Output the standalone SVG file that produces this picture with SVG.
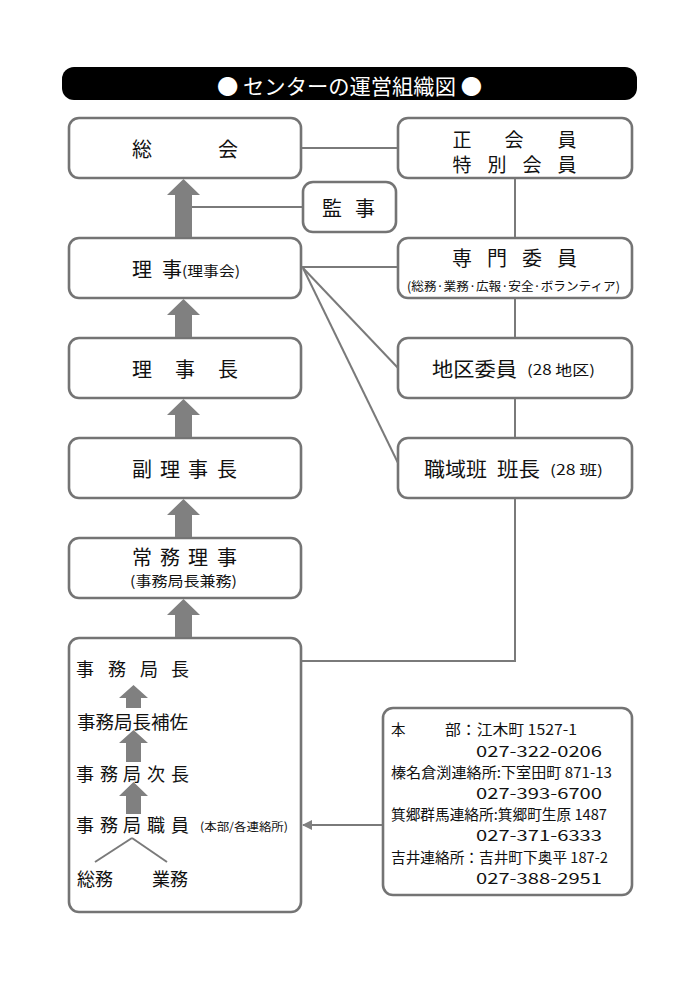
<svg xmlns="http://www.w3.org/2000/svg" width="700" height="989" viewBox="0 0 700 989">
<style>
.box{fill:#fff;stroke:#747474;stroke-width:2.6}
.ln{fill:none;stroke:#7a7a7a;stroke-width:2}
.ar{fill:#808080}
text{font-family:"Noto Sans CJK JP","Noto Sans",sans-serif;fill:#111;dominant-baseline:central}
.b{font-size:20px;text-anchor:middle}
.b2{font-size:19px;text-anchor:middle}
.m{font-size:18px}
.s{font-size:14px}
.c{font-size:14.5px}
</style>
<defs>
<marker id="ah" markerWidth="10" markerHeight="10" refX="9" refY="5" orient="auto" markerUnits="userSpaceOnUse">
<path d="M0,0 L10,5 L0,10 Z" fill="#808080"/>
</marker>
</defs>
<rect x="0" y="0" width="700" height="989" fill="#fff"/>
<g id="title">
<rect x="62" y="67" width="575" height="33" rx="12" fill="#000"/>
<text x="217" y="85" style="font-size:21px;fill:#fff" textLength="265" lengthAdjust="spacingAndGlyphs">● センターの運営組織図 ●</text>
</g>
<g id="soukai">
<rect class="box" x="69" y="118" width="232" height="60" rx="10"/>
<text class="b" x="142 228" y="148">総会</text>
</g>
<g id="kanji">
<rect class="box" x="303" y="182" width="93" height="50" rx="10"/>
<text class="b" x="332 365" y="207">監事</text>
</g>
<g id="riji">
<rect class="box" x="69" y="238" width="232" height="60" rx="10"/>
<text class="b" x="142 172" y="268">理事</text>
<text class="s" x="182" y="270" textLength="58" lengthAdjust="spacingAndGlyphs">(理事会)</text>
</g>
<g id="rijichou">
<rect class="box" x="69" y="338" width="232" height="60" rx="10"/>
<text class="b" x="142 185 228" y="368">理事長</text>
</g>
<g id="fukurijichou">
<rect class="box" x="69" y="438" width="232" height="60" rx="10"/>
<text class="b" x="142 170 198 227" y="468">副理事長</text>
</g>
<g id="joumuriji">
<rect class="box" x="69" y="538" width="232" height="60" rx="10"/>
<text class="b" x="142 170 198 227" y="556">常務理事</text>
<text class="s" x="130" y="580" textLength="107" lengthAdjust="spacingAndGlyphs">(事務局長兼務)</text>
</g>
<g id="jimukyoku">
<rect class="box" x="69" y="638" width="232" height="274" rx="10"/>
<text class="m" x="85 117 149 180" y="668" text-anchor="middle">事務局長</text>
<text class="m" x="77" y="721" textLength="111" lengthAdjust="spacingAndGlyphs">事務局長補佐</text>
<text class="m" x="85 109 132 156 180" y="773" text-anchor="middle">事務局次長</text>
<text class="m" x="85 109 132 156 180" y="824" text-anchor="middle">事務局職員</text>
<text x="200" y="826" style="font-size:11.5px" textLength="88" lengthAdjust="spacingAndGlyphs">(本部/各連絡所)</text>
<text class="m" x="77" y="878">総務</text>
<text class="m" x="152" y="878">業務</text>
</g>
<g id="seikaiin">
<rect class="box" x="398" y="118" width="234" height="60" rx="10"/>
<text class="b2" x="462 514 567" y="138.5">正会員</text>
<text class="b2" x="462 497 532 567" y="163">特別会員</text>
</g>
<g id="senmoniin">
<rect class="box" x="398" y="238" width="234" height="60" rx="10"/>
<text class="b" x="462 497 532 567" y="257">専門委員</text>
<text x="407" y="285" style="font-size:12.5px" textLength="213" lengthAdjust="spacingAndGlyphs">(総務·業務·広報·安全·ボランティア)</text>
</g>
<g id="chikuiin">
<rect class="box" x="398" y="338" width="234" height="60" rx="10"/>
<text x="432" y="368" style="font-size:20px" textLength="85" lengthAdjust="spacingAndGlyphs">地区委員</text>
<text class="s" x="527" y="369" textLength="68" lengthAdjust="spacingAndGlyphs">(28 地区)</text>
</g>
<g id="shokuikihan">
<rect class="box" x="398" y="438" width="234" height="60" rx="10"/>
<text x="424" y="468" style="font-size:20px" textLength="63" lengthAdjust="spacingAndGlyphs">職域班</text>
<text x="497" y="468" style="font-size:20px" textLength="43" lengthAdjust="spacingAndGlyphs">班長</text>
<text class="s" x="550" y="469" textLength="53" lengthAdjust="spacingAndGlyphs">(28 班)</text>
</g>
<g id="contact">
<rect class="box" x="383" y="708" width="249" height="187" rx="10"/>
<text class="c" x="391" y="728">本</text>
<text class="c" x="445" y="728" textLength="132" lengthAdjust="spacingAndGlyphs">部：江木町 1527-1</text>
<text class="c" x="476" y="750" textLength="126" lengthAdjust="spacingAndGlyphs">027-322-0206</text>
<text class="c" x="391" y="771" textLength="221" lengthAdjust="spacingAndGlyphs">榛名倉渕連絡所:下室田町 871-13</text>
<text class="c" x="476" y="792" textLength="126" lengthAdjust="spacingAndGlyphs">027-393-6700</text>
<text class="c" x="391" y="813" textLength="216" lengthAdjust="spacingAndGlyphs">箕郷群馬連絡所:箕郷町生原 1487</text>
<text class="c" x="476" y="834" textLength="126" lengthAdjust="spacingAndGlyphs">027-371-6333</text>
<text class="c" x="391" y="856" textLength="217" lengthAdjust="spacingAndGlyphs">吉井連絡所：吉井町下奥平 187-2</text>
<text class="c" x="476" y="877" textLength="126" lengthAdjust="spacingAndGlyphs">027-388-2951</text>
</g>
<g id="connectors">
<line class="ln" x1="302" y1="148" x2="397" y2="148"/>
<line class="ln" x1="302" y1="267" x2="397" y2="267"/>
<line class="ln" x1="192" y1="207" x2="302" y2="207"/>
<line class="ln" x1="303" y1="268" x2="398" y2="368"/>
<line class="ln" x1="303" y1="268" x2="398" y2="463"/>
<line class="ln" x1="515" y1="179" x2="515" y2="237"/>
<line class="ln" x1="515" y1="299" x2="515" y2="337"/>
<line class="ln" x1="515" y1="399" x2="515" y2="437"/>
<polyline class="ln" points="515,499 515,661 302,661"/>
<line class="ln" x1="382" y1="825" x2="303" y2="825" marker-end="url(#ah)"/>
<line class="ln" x1="132" y1="838" x2="95" y2="862"/>
<line class="ln" x1="132" y1="838" x2="167" y2="862"/>
<polygon class="ar" points="183.5,179 200,195 192,195 192,237 175,237 175,195 167,195"/>
<polygon class="ar" points="183.5,299 200,315 192,315 192,337 175,337 175,315 167,315"/>
<polygon class="ar" points="183.5,399 200,415 192,415 192,437 175,437 175,415 167,415"/>
<polygon class="ar" points="183.5,499 200,515 192,515 192,537 175,537 175,515 167,515"/>
<polygon class="ar" points="183.5,599 200,615 192,615 192,637 175,637 175,615 167,615"/>
<polygon class="ar" points="133.5,685 148,698 141,698 141,708 126,708 126,698 119,698"/>
<polygon class="ar" points="133.5,730 148,743 141,743 141,762 126,762 126,743 119,743"/>
<polygon class="ar" points="133.5,782 148,796 141,796 141,814 126,814 126,796 119,796"/>
</g>
</svg>
